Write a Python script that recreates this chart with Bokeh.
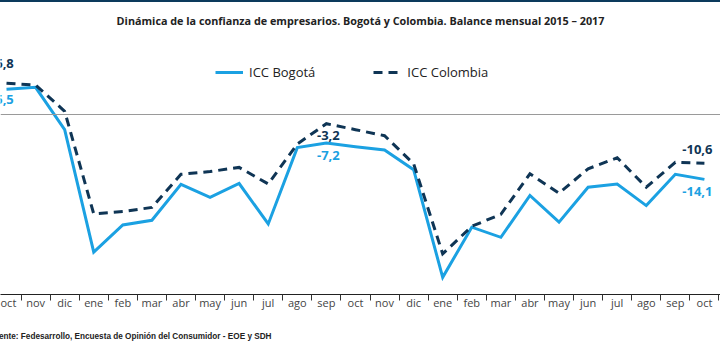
from bokeh.plotting import figure
from bokeh.models import (Range1d, FixedTicker, Span, Legend, LegendItem,
                          ColumnDataSource, Div)
from bokeh.layouts import column
from bokeh.embed import file_html
from bokeh.resources import INLINE
from bokeh.core.properties import value

# ---------------- data ----------------
months = ["oct", "nov", "dic", "ene", "feb", "mar", "abr", "may", "jun", "jul",
          "ago", "sep", "oct", "nov", "dic", "ene", "feb", "mar", "abr", "may",
          "jun", "jul", "ago", "sep", "oct"]

icc_bogota = [5.5, 5.9, -3.3, -29.9, -24.0, -23.0, -15.2, -18.0, -15.0, -23.8,
              -7.2, -6.2, -7.0, -7.7, -12.0, -35.4, -24.5, -26.7, -17.6, -23.4,
              -15.8, -15.1, -19.8, -13.0, -14.1]

icc_colombia = [6.8, 6.4, 0.7, -21.6, -21.1, -20.2, -13.0, -12.4, -11.5, -15.1,
                -6.4, -2.0, -3.3, -4.6, -10.7, -30.3, -24.3, -21.7, -12.9, -17.1,
                -11.8, -9.4, -15.8, -10.4, -10.6]

label_idx = [0, 11, 24]
label_txt_colombia = ["6,8", "-3,2", "-10,6"]
label_txt_bogota = ["5,5", "-7,2", "-14,1"]

title_text = "Dinámica de la confianza de empresarios. Bogotá y Colombia. Balance mensual 2015 – 2017"
source_text = "Fuente: Fedesarrollo, Encuesta de Opinión del Consumidor - EOE y SDH"

# ---------------- styling ----------------
C_BOG = "#1BA1E2"
C_COL = "#0F3555"
FONT = "Open Sans"

x = list(range(len(months)))
step = 29.08
x0 = -6 / step
W, H = 720, 330

p = figure(width=W, height=H, output_backend="svg", toolbar_location=None,
           x_range=Range1d(x0, x0 + W / step),
           y_range=Range1d((114 - 294) / 4.6, (114 - 30) / 4.6),
           y_axis_location=None,
           min_border_left=0, min_border_right=0,
           min_border_top=28, min_border_bottom=38)
p.xgrid.visible = False
p.ygrid.visible = False
p.outline_line_color = None

p.title.text = title_text
p.title.align = "center"
p.title.text_font = FONT
p.title.text_font_size = "10.8px"
p.title.text_font_style = "bold"
p.title.text_color = "#222222"
p.title.standoff = 6

p.add_layout(Span(location=0, dimension="width", line_color="#9a9a9a", line_width=1))

src_b = ColumnDataSource(dict(x=x, y=icc_bogota))
src_c = ColumnDataSource(dict(x=x, y=icc_colombia))
r_b = p.line("x", "y", source=src_b, line_color=C_BOG, line_width=3, line_join="miter")
r_c = p.line("x", "y", source=src_c, line_color=C_COL, line_width=3,
             line_dash="9 6", line_join="miter")

lab_c = ColumnDataSource(dict(
    x=[x[i] for i in label_idx], y=[icc_colombia[i] for i in label_idx],
    t=label_txt_colombia, dx=[-2, 2, -7], dy=[-20, 12, -14]))
lab_b = ColumnDataSource(dict(
    x=[x[i] for i in label_idx], y=[icc_bogota[i] for i in label_idx],
    t=label_txt_bogota, dx=[-2, 2, -7], dy=[10, 12, 12]))
for s, c in ((lab_c, C_COL), (lab_b, C_BOG)):
    p.text("x", "y", text="t", source=s, x_offset="dx", y_offset="dy",
           text_align="center", text_baseline="middle",
           text_font=value(FONT), text_font_size="13px", text_font_style="bold",
           text_color=c)

ax = p.xaxis[0]
ax.ticker = FixedTicker(ticks=x, minor_ticks=[i - 0.5 for i in range(len(x) + 1)])
ax.major_label_overrides = {i: m for i, m in zip(x, months)}
ax.major_tick_line_color = None
ax.major_tick_out = 0
ax.major_tick_in = 0
ax.minor_tick_line_color = "#333333"
ax.minor_tick_out = 6
ax.minor_tick_in = 0
ax.axis_line_color = "#222222"
ax.axis_line_width = 1.2
ax.major_label_standoff = -6
ax.major_label_text_font = FONT
ax.major_label_text_font_size = "11px"
ax.major_label_text_color = "#444444"

legend = Legend(items=[LegendItem(label="ICC Bogotá", renderers=[r_b]),
                       LegendItem(label="ICC Colombia", renderers=[r_c])],
                orientation="horizontal", location=(215, 212),
                label_text_font=FONT, label_text_font_size="13px",
                label_text_color="#222222",
                glyph_width=28, label_standoff=6, spacing=58,
                border_line_color=None, background_fill_alpha=0,
                padding=0, margin=0)
p.add_layout(legend)

top_bar = Div(text="", width=W, height=2, margin=0,
              styles={"background-color": "#0C3A5C"})
source_div = Div(text=source_text, width=W, height=20, margin=0,
                 styles={"font-family": "Liberation Sans", "font-size": "8.2px",
                         "font-weight": "bold", "color": "#222222",
                         "line-height": "10px", "text-indent": "-11px",
                         "white-space": "nowrap"})
layout = column(top_bar, p, source_div, spacing=0)

open("out.html", "w").write(file_html(layout, INLINE))
